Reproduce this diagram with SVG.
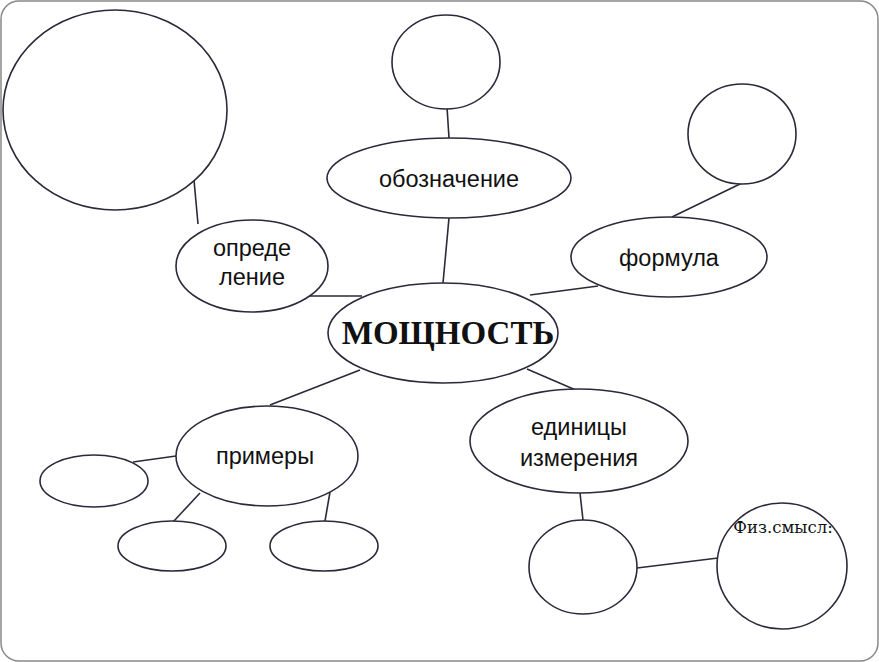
<svg xmlns="http://www.w3.org/2000/svg" width="879" height="662" viewBox="0 0 879 662">
<style>
.n{fill:#fff;stroke:#2a2a3a;stroke-width:1.6}
.c line{stroke:#2a2a3a;stroke-width:1.6}
.t{font-family:"Liberation Sans",Arial,sans-serif;font-size:23.5px;fill:#111;text-anchor:middle}
</style>
<rect x="0" y="0" width="879" height="662" fill="#fff"/>
<rect x="1" y="1" width="877" height="660" rx="18" fill="none" stroke="#888" stroke-width="1.5"/>
<g class="c">
<line x1="194" y1="180" x2="198" y2="224"/>
<line x1="447" y1="107" x2="449" y2="138"/>
<line x1="449" y1="218" x2="443" y2="283"/>
<line x1="308" y1="296" x2="362" y2="296"/>
<line x1="598" y1="286" x2="530" y2="295"/>
<line x1="742" y1="183" x2="672" y2="217"/>
<line x1="360" y1="370" x2="270" y2="405"/>
<line x1="527" y1="369" x2="578" y2="391"/>
<line x1="176" y1="456" x2="133" y2="462"/>
<line x1="200" y1="493" x2="173" y2="522"/>
<line x1="330" y1="492" x2="325" y2="521"/>
<line x1="580" y1="493" x2="583" y2="520"/>
<line x1="637" y1="568" x2="718" y2="558"/>
</g>
<g id="big"><ellipse class="n" cx="115" cy="110" rx="112" ry="100"/></g>
<g id="top"><ellipse class="n" cx="446" cy="62" rx="54" ry="47"/></g>
<g id="topright"><ellipse class="n" cx="742" cy="134" rx="54" ry="50"/></g>
<g id="oboz"><ellipse class="n" cx="449" cy="178" rx="122" ry="40"/><text class="t" x="449" y="187">обозначение</text></g>
<g id="opred"><ellipse class="n" cx="252" cy="266" rx="76" ry="46"/><text class="t" x="252" y="256">опреде</text><text class="t" x="252" y="285">ление</text></g>
<g id="formula"><ellipse class="n" cx="669" cy="257" rx="98" ry="40"/><text class="t" x="669" y="266">формула</text></g>
<g id="center"><ellipse class="n" cx="443" cy="333" rx="115" ry="50"/><text x="448" y="344" text-anchor="middle" font-family="'Liberation Serif','Times New Roman',serif" font-weight="bold" font-size="33" fill="#111">МОЩНОСТЬ</text></g>
<g id="primery"><ellipse class="n" cx="267" cy="456" rx="91" ry="50"/><text class="t" x="265" y="464">примеры</text></g>
<g id="edinicy"><ellipse class="n" cx="579" cy="441" rx="109" ry="52"/><text class="t" x="579" y="435">единицы</text><text class="t" x="579" y="466">измерения</text></g>
<g id="ex1"><ellipse class="n" cx="94" cy="481" rx="54" ry="26"/></g>
<g id="ex2"><ellipse class="n" cx="172" cy="546" rx="54" ry="25"/></g>
<g id="ex3"><ellipse class="n" cx="324" cy="546" rx="54" ry="25"/></g>
<g id="unit"><ellipse class="n" cx="583" cy="567" rx="54" ry="47"/></g>
<g id="fiz"><ellipse class="n" cx="782" cy="566" rx="65" ry="63"/><text x="783" y="533" text-anchor="middle" font-family="'DejaVu Serif',serif" font-size="16.5" fill="#111">Физ.смысл:</text></g>
</svg>
